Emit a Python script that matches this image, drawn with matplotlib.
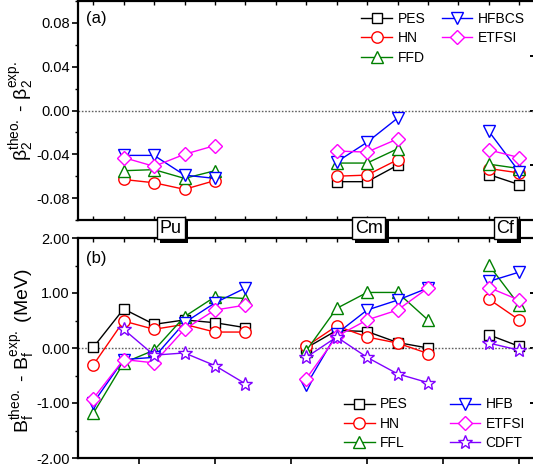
import numpy as np
import matplotlib
matplotlib.use('Agg')
import matplotlib.pyplot as plt
from matplotlib import patheffects as pe
from matplotlib.ticker import MultipleLocator, FormatStrFormatter, NullFormatter

plt.rcParams['font.family'] = ['Liberation Sans', 'DejaVu Sans']
plt.rcParams['mathtext.fontset'] = 'custom'
plt.rcParams['mathtext.rm'] = 'Liberation Sans'
plt.rcParams['mathtext.it'] = 'Liberation Sans:italic'
plt.rcParams['axes.unicode_minus'] = False

nan = np.nan

# ---------------- data ----------------
elements = ['Pu', 'Cm', 'Cf']
element_pos = [2.55, 9.05, 13.55]

# panel (a): deformation difference
xa = [1, 2, 3, 4, nan, 8, 9, 10, nan, 13, 14]
a_PES = [nan, nan, nan, nan, nan, -0.065, -0.065, -0.050, nan, -0.0585, -0.0677]
a_HN = [-0.063, -0.066, -0.072, -0.064, nan, -0.060, -0.059, -0.045, nan, -0.053, -0.057]
a_FFD = [-0.055, -0.054, -0.062, -0.055, nan, -0.048, -0.048, -0.035, nan, -0.049, -0.053]
a_HFBCS = [-0.041, -0.041, -0.059, -0.062, nan, -0.047, -0.029, -0.007, nan, -0.019, -0.056]
a_ETFSI = [-0.043, -0.051, -0.040, -0.032, nan, -0.037, -0.038, -0.026, nan, -0.036, -0.043]

# panel (b): barrier height difference (MeV)
xb = [0, 1, 2, 3, 4, 5, nan, 7, 8, 9, 10, 11, nan, 13, 14]
b_PES = [0.01, 0.71, 0.43, 0.51, 0.46, 0.37, nan, 0.0, 0.32, 0.30, 0.10, 0.0, nan, 0.24, 0.03]
b_HN = [-0.31, 0.49, 0.34, 0.43, 0.29, 0.29, nan, 0.03, 0.40, 0.20, 0.09, -0.10, nan, 0.89, 0.51]
b_FFL = [-1.19, -0.27, -0.04, 0.57, 0.93, 0.90, nan, -0.05, 0.72, 1.01, 1.01, 0.51, nan, 1.51, 0.78]
b_HFB = [-1.0, -0.21, -0.17, 0.46, 0.82, 1.09, nan, -0.68, 0.26, 0.69, 0.87, 1.09, nan, 1.21, 1.38]
b_ETFSI = [-0.92, -0.21, -0.27, 0.34, 0.69, 0.78, nan, -0.56, 0.21, 0.51, 0.69, 1.09, nan, 1.10, 0.87]
b_CDFT = [nan, 0.34, -0.13, -0.09, -0.32, -0.65, nan, -0.17, 0.20, -0.17, -0.47, -0.63, nan, 0.09, -0.04]

series_a = [('PES', a_PES, 'black', 's'), ('HN', a_HN, '#ff0000', 'o'),
            ('FFD', a_FFD, '#008000', '^'), ('HFBCS', a_HFBCS, '#0000ff', 'v'),
            ('ETFSI', a_ETFSI, '#ff00ff', 'D')]
series_b = [('PES', b_PES, 'black', 's'), ('HN', b_HN, '#ff0000', 'o'),
            ('FFL', b_FFL, '#008000', '^'), ('HFB', b_HFB, '#0000ff', 'v'),
            ('ETFSI', b_ETFSI, '#ff00ff', 'D'), ('CDFT', b_CDFT, '#8000ff', '*')]

msize = {'s': 7.2, 'o': 8.2, '^': 8.8, 'v': 8.8, 'D': 6.8, '*': 10.5}

W, H = 533, 470
fig = plt.figure(figsize=(W / 100, H / 100), dpi=100)


def frac(l, t, r, b):
    return [l / W, 1 - b / H, (r - l) / W, (b - t) / H]


axa = fig.add_axes(frac(78, 1, 536, 220))
axb = fig.add_axes(frac(78, 238, 536, 458))

XL = (-0.5, -0.5 + 458 / 30.43)

for ax, xs, series in ((axa, xa, series_a), (axb, xb, series_b)):
    ax.axhline(0, color='#606060', lw=1.0, ls=(0, (1.2, 1.2)), zorder=1)
    for name, ys, col, mk in series:
        ax.plot(xs, ys, color=col, marker=mk, mfc='white', mec=col,
                ms=msize[mk], mew=1.0, lw=1.0, label=name, zorder=3)
    ax.set_xlim(*XL)
    for s in ax.spines.values():
        s.set_linewidth(1.6)
    ax.spines['right'].set_visible(False)
    ax.tick_params(axis='y', which='major', direction='out', length=4, width=1.2,
                   labelsize=10.5, pad=2)
    ax.tick_params(axis='y', which='minor', direction='out', length=2.5, width=1.0)
    sec = ax.secondary_yaxis('right')
    sec.spines['right'].set_visible(False)
    sec.tick_params(axis='y', which='major', direction='in', length=4, width=1.4,
                    labelright=False)
    sec.tick_params(axis='y', which='minor', direction='in', length=2.5, width=1.0)

# panel (a) axes
axa.set_ylim(-0.1, 0.1)
axa.yaxis.set_major_locator(MultipleLocator(0.04))
axa.yaxis.set_minor_locator(MultipleLocator(0.02))
axa.yaxis.set_major_formatter(FormatStrFormatter('%.2f'))
axa.set_xticks(range(15))
axa.tick_params(axis='x', direction='in', length=3, width=1.0, top=True,
                bottom=True, labelbottom=False)

# panel (b) axes
axb.set_ylim(-2, 2)
axb.yaxis.set_major_locator(MultipleLocator(1.0))
axb.yaxis.set_minor_locator(MultipleLocator(0.5))
axb.yaxis.set_major_formatter(FormatStrFormatter('%.2f'))
axb.set_xticks(np.arange(1.5, 15, 2.5))
axb.tick_params(axis='x', direction='out', length=4, width=1.2, labelbottom=False)
secx = axb.secondary_xaxis('top')
secx.set_xticks(range(15))
secx.spines['top'].set_visible(False)
secx.tick_params(axis='x', direction='in', length=3, width=1.0, labeltop=False)

for ax in (axa, axb):
    ax.yaxis.set_minor_formatter(NullFormatter())
    ax.set_xlim(*XL)

# panel letters
axa.text(86 / W, 1 - 18 / H, '(a)', transform=fig.transFigure, fontsize=12,
         ha='left', va='center')
axb.text(86 / W, 1 - 258 / H, '(b)', transform=fig.transFigure, fontsize=12,
         ha='left', va='center')

# y labels
fig.text(22 / W, 1 - 111 / H,
         r'$\mathrm{β_2^{theo.}}$ - $\mathrm{β_2^{exp.}}$', rotation=90,
         ha='center', va='center', fontsize=14)
fig.text(23 / W, 1 - 351 / H,
         r'$\mathrm{B_f^{theo.}}$ - $\mathrm{B_f^{exp.}}$ (MeV)', rotation=90,
         ha='center', va='center', fontsize=14)

# legends
la = axa.legend(ncol=2, loc='upper right', bbox_to_anchor=(525 / W, 1 - 12 / H),
                bbox_transform=fig.transFigure, frameon=False, fontsize=10,
                handlelength=2.2, handletextpad=0.4, columnspacing=1.2,
                labelspacing=0.38, borderpad=0, borderaxespad=0)
lb = axb.legend(ncol=2, loc='lower right', bbox_to_anchor=(525 / W, 1 - 450 / H),
                bbox_transform=fig.transFigure, frameon=False, fontsize=10,
                handlelength=2.2, handletextpad=0.4, columnspacing=3.0,
                labelspacing=0.38, borderpad=0, borderaxespad=0)

# element labels with drop shadow
for name, xp in zip(elements, element_pos):
    xd = 78 + (xp - XL[0]) * 30.43
    t = fig.text(xd / W, 1 - 228 / H, name, fontsize=13, ha='center',
                 va='center', color='black',
                 bbox=dict(boxstyle='square,pad=0.15', fc='white', ec='black', lw=1))
    t.get_bbox_patch().set_path_effects([
        pe.SimplePatchShadow(offset=(2.4, -2.4), shadow_rgbFace='black', alpha=1.0),
        pe.Normal()])

fig.savefig('out.png', dpi=100)
